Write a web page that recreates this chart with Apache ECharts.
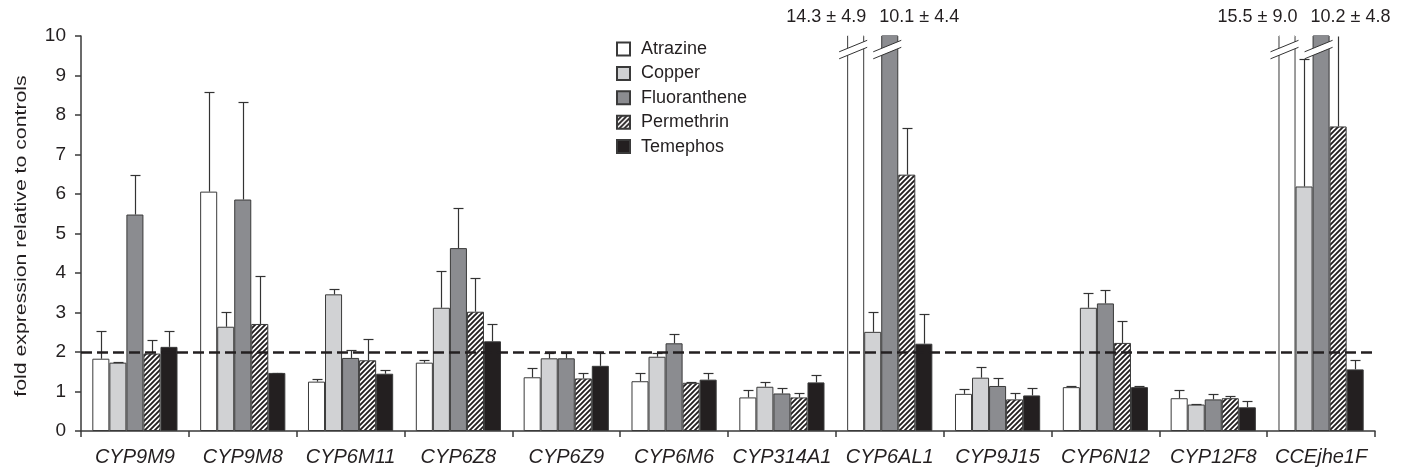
<!DOCTYPE html>
<html><head><meta charset="utf-8">
<script src="https://cdn.jsdelivr.net/npm/echarts@6/dist/echarts.min.js"></script>
<style>html,body{margin:0;padding:0;background:#fff}#c{width:1406px;height:471px}</style>
</head><body><div id="c"></div>
<script>
const categories = ['CYP9M9','CYP9M8','CYP6M11','CYP6Z8','CYP6Z9','CYP6M6','CYP314A1','CYP6AL1','CYP9J15','CYP6N12','CYP12F8','CCEjhe1F'];
const seriesNames = ['Atrazine','Copper','Fluoranthene','Permethrin','Temephos'];

const atrazine       = [1.83, 6.06, 1.25, 1.73, 1.36, 1.26, 0.85, 14.3, 0.94, 1.11, 0.83, 15.5];
const atrazineSE     = [0.71, 2.53, 0.07, 0.06, 0.24, 0.21, 0.20, 4.9,  0.13, 0.03, 0.22, 9.0];
const copper         = [1.73, 2.64, 3.46, 3.12, 1.84, 1.88, 1.12, 2.51, 1.35, 3.12, 0.67, 6.19];
const copperSE       = [0.02, 0.37, 0.14, 0.92, 0.14, 0.10, 0.11, 0.51, 0.27, 0.38, 0.02, 3.22];
const fluoranthene   = [5.48, 5.86, 1.85, 4.63, 1.84, 2.22, 0.95, 10.1, 1.14, 3.23, 0.80, 10.2];
const fluorantheneSE = [1.00, 2.46, 0.21, 1.02, 0.14, 0.24, 0.14, 4.4,  0.20, 0.33, 0.14, 4.8];
const permethrin     = [1.96, 2.71, 1.79, 3.02, 1.33, 1.22, 0.85, 6.49, 0.80, 2.23, 0.83, 7.71];
const permethrinSE   = [0.34, 1.22, 0.54, 0.86, 0.13, 0.01, 0.10, 1.18, 0.17, 0.55, 0.06, 3.0];
const temephos       = [2.13, 1.47, 1.45, 2.27, 1.65, 1.30, 1.23, 2.21, 0.90, 1.11, 0.60, 1.56];
const temephosSE     = [0.41, 0.01, 0.10, 0.44, 0.33, 0.17, 0.20, 0.75, 0.20, 0.03, 0.16, 0.23];

const yTicks = {min: 0, max: 10, interval: 1};
const threshold = 2;

const values = [atrazine, copper, fluoranthene, permethrin, temephos];
const errors = [atrazineSE, copperSE, fluorantheneSE, permethrinSE, temephosSE];

const FONT = '"Liberation Sans", Arial, Helvetica, sans-serif';
const INK = '#231f20';
const EDGE = '#3a3a3a';
const CAT_GAP = 0.21;
const NB = seriesNames.length;
const BREAK_AT = 9.6;

function hatch() {
  const s = 5;
  const c = document.createElement('canvas');
  c.width = s; c.height = s;
  const g = c.getContext('2d');
  g.fillStyle = '#fff'; g.fillRect(0, 0, s, s);
  g.strokeStyle = INK; g.lineWidth = 1.9;
  g.beginPath();
  g.moveTo(-1, 1); g.lineTo(1, -1);
  g.moveTo(0, s); g.lineTo(s, 0);
  g.moveTo(s - 1, s + 1); g.lineTo(s + 1, s - 1);
  g.stroke();
  return c;
}
const fills = ['#ffffff', '#d1d2d4', '#8b8c90', {image: hatch(), repeat: 'repeat'}, INK];

function barGeom(api, cat, idx) {
  const band = api.size([1, 0])[0];
  const group = band * (1 - CAT_GAP);
  const bw = group / NB;
  const cx = api.coord([cat, 0])[0] - group / 2 + (idx + 0.5) * bw;
  return {cx, bw};
}

const errData = [], breakData = [];
values.forEach((arr, s) => arr.forEach((v, i) => {
  if (v <= yTicks.max) errData.push([i, v, errors[s][i], s]);
  else breakData.push([i, yTicks.max, s, v, errors[s][i]]);
}));

function renderErr(params, api) {
  const cat = api.value(0), v = api.value(1), se = api.value(2), s = api.value(3);
  const g = barGeom(api, cat, s);
  const x = Math.round(g.cx) + 0.5;
  const top = Math.min(v + se, yTicks.max);
  const y0 = api.coord([cat, v])[1], y1 = Math.round(api.coord([cat, top])[1]) + 0.5;
  const st = {stroke: '#333', lineWidth: 1.2};
  const ch = [{type: 'line', shape: {x1: x, y1: y0, x2: x, y2: y1}, style: st}];
  if (v + se <= yTicks.max) ch.push({type: 'line', shape: {x1: x - 5, y1: y1, x2: x + 5, y2: y1}, style: st});
  return {type: 'group', children: ch};
}

function renderBreak(params, api) {
  const cat = api.value(0), s = api.value(2), v = api.value(3), se = api.value(4);
  const g = barGeom(api, cat, s);
  const L = g.cx - g.bw / 2 - 8, R = g.cx + g.bw / 2 + 3;
  const yb = api.coord([cat, BREAK_AT])[1];
  const rise = 11.5, gap = 7;
  const leftSide = s < 2;
  const ytop = api.coord([cat, yTicks.max])[1];
  const st = {stroke: '#333', lineWidth: 1};
  return {type: 'group', children: [
    {type: 'rect', shape: {x: g.cx - g.bw / 2 + 1, y: ytop - 1, width: g.bw - 2, height: 2}, style: {fill: s === 0 ? '#fff' : fills[s]}},
    {type: 'polygon', shape: {points: [[L, yb], [R, yb - rise], [R, yb - rise + gap], [L, yb + gap]]}, style: {fill: '#fff'}},
    {type: 'line', shape: {x1: L, y1: yb, x2: R, y2: yb - rise}, style: st},
    {type: 'line', shape: {x1: L, y1: yb + gap, x2: R, y2: yb - rise + gap}, style: st},
    {type: 'text', x: leftSide ? g.cx + g.bw / 2 + 2 : g.cx - g.bw / 2 - 2, y: ytop - 19,
     style: {text: v.toFixed(1) + ' \u00b1 ' + se.toFixed(1), align: leftSide ? 'right' : 'left',
             verticalAlign: 'middle', fontSize: 18, fontFamily: FONT, fill: INK}}
  ]};
}

const chart = echarts.init(document.getElementById('c'), null, {renderer: 'canvas'});
const barSeries = seriesNames.map((n, s) => ({
  name: n, type: 'bar', data: values[s], barGap: '0%', barCategoryGap: (CAT_GAP * 100) + '%',
  clip: true, z: 2, silent: true,
  itemStyle: {color: fills[s], borderColor: EDGE, borderWidth: 1}
}));

chart.setOption({
  animation: false,
  backgroundColor: '#fff',
  grid: {left: 81, right: 31, top: 36, bottom: 40},
  legend: {
    data: seriesNames, orient: 'vertical', left: 611, top: 35,
    itemWidth: 13, itemHeight: 13, itemGap: 6.4, icon: 'rect', selectedMode: false,
    textStyle: {fontSize: 18, lineHeight: 18, color: INK, fontFamily: FONT, padding: [0, 0, 0, 6]}
  },
  xAxis: {
    type: 'category', data: categories,
    axisLine: {lineStyle: {color: EDGE, width: 1.5}},
    axisTick: {show: true, length: 6, lineStyle: {color: EDGE, width: 1.5}},
    axisLabel: {interval: 0, fontStyle: 'italic', fontSize: 20, color: INK, fontFamily: FONT, margin: 16}
  },
  yAxis: {
    type: 'value', min: yTicks.min, max: yTicks.max, interval: yTicks.interval,
    splitLine: {show: false},
    axisLine: {show: true, lineStyle: {color: EDGE, width: 1.5}},
    axisTick: {show: true, length: 6, lineStyle: {color: EDGE, width: 1.5}},
    axisLabel: {fontSize: 19, color: INK, fontFamily: FONT, margin: 15}
  },
  graphic: [{
    type: 'text', x: 21, y: 236, rotation: Math.PI / 2, scaleX: 1.25,
    style: {text: 'fold expression relative to controls', fontSize: 17, fontFamily: FONT, fill: INK,
            align: 'center', verticalAlign: 'middle'}
  }],
  series: barSeries.concat([
    {type: 'custom', data: errData, renderItem: renderErr, encode: {x: 0, y: 1}, z: 3, silent: true,
     markLine: {silent: true, symbol: 'none', label: {show: false},
                lineStyle: {type: [11, 5], width: 2.5, color: INK}, data: [{yAxis: threshold}]}},
    {type: 'custom', data: breakData, renderItem: renderBreak, encode: {x: 0, y: 1}, z: 4, silent: true, clip: false}
  ])
});
</script>
</body></html>
